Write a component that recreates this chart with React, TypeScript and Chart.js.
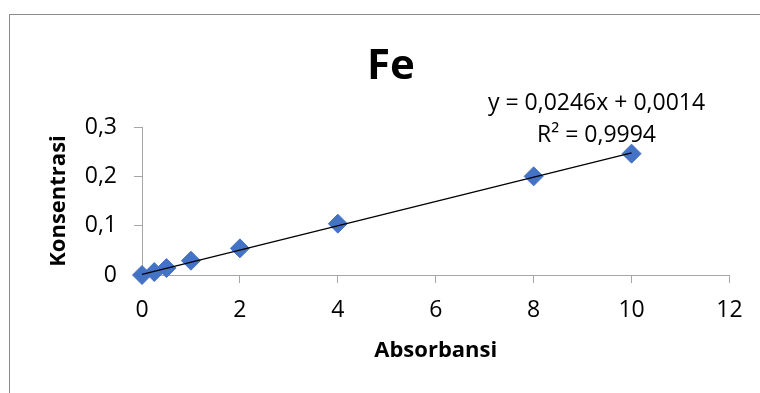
import { useEffect, useRef } from 'react';
import { Chart, registerables } from 'chart.js';

Chart.register(...registerables);

// Calibration standards for Fe
const absorbansi = [0, 0.25, 0.5, 1, 2, 4, 8, 10];
const konsentrasi = [0, 0.006, 0.014, 0.029, 0.054, 0.104, 0.2, 0.246];

// Linear trendline y = a·x + b over the measured range
const trendSlope = 0.0246;
const trendIntercept = 0.0014;
const trendRange = [0, 10];
const trendLabel = ['y = 0,0246x + 0,0014', 'R² = 0,9994'];

const xTickValues = [0, 2, 4, 6, 8, 10, 12];
const yTickValues = [0, 0.1, 0.2, 0.3];
const yTickLabels = ['0', '0,1', '0,2', '0,3'];

const chartTitle = 'Fe';
const xTitle = 'Absorbansi';
const yTitle = 'Konsentrasi';

const FONT = "'Open Sans', sans-serif";
const AXIS_GRAY = '#A6A6A6';
const MARKER_BLUE = '#4472C4';

const decorPlugin = {
  id: 'decor',
  beforeDraw(chart: any) {
    const { ctx, width, height } = chart;
    ctx.save();
    ctx.fillStyle = '#ffffff';
    ctx.fillRect(0, 0, width, height);
    ctx.strokeStyle = '#8C8C8C';
    ctx.lineWidth = 1;
    ctx.strokeRect(9.5, 14.5, width + 40, height + 40);
    ctx.restore();
  },
  afterDraw(chart: any) {
    const { ctx } = chart;
    ctx.save();
    ctx.fillStyle = '#000000';
    ctx.textAlign = 'center';
    ctx.textBaseline = 'middle';
    ctx.font = `bold 42px ${FONT}`;
    ctx.fillText(chartTitle, 391, 67);
    ctx.font = `23px ${FONT}`;
    ctx.fillText(trendLabel[0], 596.5, 103);
    ctx.fillText(trendLabel[1], 596.5, 135);
    ctx.restore();
  },
};

export default function App() {
  const canvasRef = useRef<HTMLCanvasElement | null>(null);

  useEffect(() => {
    const canvas = canvasRef.current;
    if (!canvas) return;

    const chart = new Chart(canvas, {
      type: 'scatter',
      data: {
        datasets: [
          {
            type: 'line',
            label: 'Linear',
            data: trendRange.map((x) => ({ x, y: trendSlope * x + trendIntercept })),
            borderColor: '#000000',
            borderWidth: 1.3,
            pointRadius: 0,
            fill: false,
            clip: false,
          } as any,
          {
            type: 'scatter',
            label: yTitle,
            data: absorbansi.map((x, i) => ({ x, y: konsentrasi[i] })),
            pointStyle: 'rectRot',
            pointRadius: 9.5,
            pointHoverRadius: 9.5,
            backgroundColor: MARKER_BLUE,
            borderColor: MARKER_BLUE,
            borderWidth: 1,
            clip: false,
          } as any,
        ],
      },
      options: {
        animation: false,
        responsive: false,
        layout: { padding: { left: 0, top: 127, right: 30.5, bottom: 0 } },
        plugins: {
          legend: { display: false },
          tooltip: { enabled: false },
          title: { display: false },
        },
        font: { family: FONT },
        scales: {
          x: {
            type: 'linear',
            min: xTickValues[0],
            max: xTickValues[xTickValues.length - 1],
            afterBuildTicks: (scale: any) => {
              scale.ticks = xTickValues.map((value) => ({ value }));
            },
            afterFit: (scale: any) => {
              scale.height = 118;
            },
            ticks: {
              font: { family: FONT, size: 23 },
              color: '#000000',
              padding: 13.5,
              callback: (v: any) => String(v),
            },
            grid: {
              drawOnChartArea: false,
              drawTicks: true,
              tickLength: 8,
              color: AXIS_GRAY,
            },
            border: { display: true, color: AXIS_GRAY },
            title: {
              display: true,
              text: xTitle,
              color: '#000000',
              font: { family: FONT, size: 22, weight: 'bold' },
              padding: { top: 0, bottom: 29 },
            },
          },
          y: {
            type: 'linear',
            min: yTickValues[0],
            max: yTickValues[yTickValues.length - 1],
            afterBuildTicks: (scale: any) => {
              scale.ticks = yTickValues.map((value) => ({ value }));
            },
            afterFit: (scale: any) => {
              scale.width = 142;
            },
            ticks: {
              font: { family: FONT, size: 23 },
              color: '#000000',
              padding: 17,
              callback: (_v: any, i: number) => yTickLabels[i],
            },
            grid: {
              drawOnChartArea: false,
              drawTicks: true,
              tickLength: 8,
              color: AXIS_GRAY,
            },
            border: { display: true, color: AXIS_GRAY },
            title: {
              display: true,
              text: yTitle,
              color: '#000000',
              font: { family: FONT, size: 22, weight: 'bold' },
              padding: { top: 46, bottom: 0 },
            },
          },
        },
      } as any,
      plugins: [decorPlugin],
    });

    return () => chart.destroy();
  }, []);

  return (
    <div style={{ position: 'fixed', left: 0, top: 0, width: 760, height: 393, background: '#fff' }}>
      <canvas ref={canvasRef} width={760} height={393} style={{ display: 'block', width: 760, height: 393 }} />
    </div>
  );
}
